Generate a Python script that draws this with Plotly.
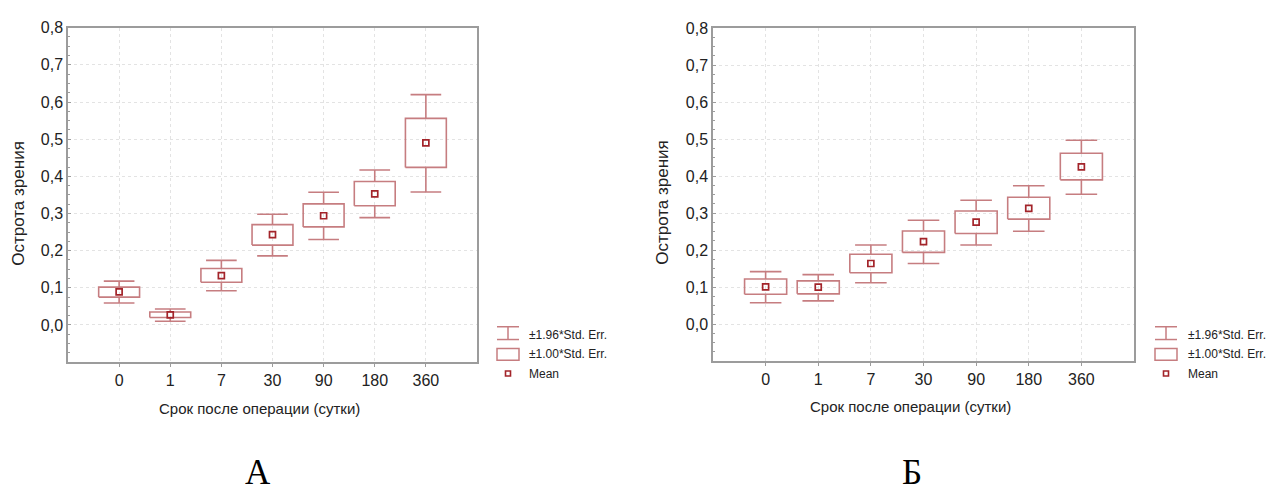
import plotly.graph_objects as go

W, H = 1269, 493

categories = ["0", "1", "7", "30", "90", "180", "360"]
y_tickvals = [0.0, 0.1, 0.2, 0.3, 0.4, 0.5, 0.6, 0.7, 0.8]
y_ticktext = ["0,0", "0,1", "0,2", "0,3", "0,4", "0,5", "0,6", "0,7", "0,8"]

# Panel A
a_mean = [0.089, 0.027, 0.133, 0.243, 0.294, 0.353, 0.490]
a_box_lo = [0.075, 0.020, 0.115, 0.215, 0.264, 0.321, 0.424]
a_box_hi = [0.102, 0.035, 0.152, 0.270, 0.326, 0.386, 0.556]
a_whisk_lo = [0.059, 0.010, 0.092, 0.186, 0.230, 0.289, 0.358]
a_whisk_hi = [0.118, 0.043, 0.174, 0.298, 0.357, 0.417, 0.620]

# Panel B
b_mean = [0.101, 0.100, 0.164, 0.223, 0.276, 0.313, 0.425]
b_box_lo = [0.081, 0.082, 0.139, 0.194, 0.245, 0.284, 0.390]
b_box_hi = [0.122, 0.117, 0.189, 0.252, 0.306, 0.343, 0.462]
b_whisk_lo = [0.058, 0.063, 0.112, 0.164, 0.214, 0.251, 0.351]
b_whisk_hi = [0.142, 0.134, 0.214, 0.281, 0.335, 0.374, 0.497]

legend_labels = ["±1.96*Std. Err.", "±1.00*Std. Err.", "Mean"]
panel_letters = ["А", "Б"]

BOX_COL = "#c67d80"
MEAN_COL = "#a3242a"
AXIS_COL = "#9c9c9c"
GRID_COL = "#e3e3e3"
FONT = "Liberation Sans"

fig = go.Figure()


def add_panel(xa, ya, mean, blo, bhi, wlo, whi):
    bx, by, wx, wy = [], [], [], []
    for i in range(len(categories)):
        xc = i + 1
        bx += [xc - 0.4, xc + 0.4, xc + 0.4, xc - 0.4, xc - 0.4, None]
        by += [blo[i], blo[i], bhi[i], bhi[i], blo[i], None]
        wx += [xc, xc, None, xc, xc, None, xc - 0.3, xc + 0.3, None, xc - 0.3, xc + 0.3, None]
        wy += [bhi[i], whi[i], None, blo[i], wlo[i], None, whi[i], whi[i], None, wlo[i], wlo[i], None]
    fig.add_trace(go.Scatter(x=wx, y=wy, mode="lines", xaxis=xa, yaxis=ya,
                             line=dict(color=BOX_COL, width=1.6), showlegend=False,
                             hoverinfo="skip"))
    fig.add_trace(go.Scatter(x=bx, y=by, mode="lines", xaxis=xa, yaxis=ya,
                             line=dict(color=BOX_COL, width=1.6), showlegend=False,
                             hoverinfo="skip"))
    fig.add_trace(go.Scatter(x=list(range(1, len(categories) + 1)), y=mean, mode="markers",
                             xaxis=xa, yaxis=ya, showlegend=False,
                             marker=dict(symbol="square-open", size=6, color=MEAN_COL,
                                         line=dict(width=1.7, color=MEAN_COL))))


add_panel("x", "y", a_mean, a_box_lo, a_box_hi, a_whisk_lo, a_whisk_hi)
add_panel("x2", "y2", b_mean, b_box_lo, b_box_hi, b_whisk_lo, b_whisk_hi)


def px_x(v):
    return v / W


def px_y(v):
    return 1 - v / H


xcommon = dict(range=[0, 8], tickmode="array", tickvals=list(range(1, 8)), ticktext=categories,
               showgrid=True, gridcolor=GRID_COL, griddash="dot", gridwidth=1,
               showline=True, linecolor=AXIS_COL, linewidth=1.5, mirror=True,
               ticks="outside", ticklen=3, tickcolor=AXIS_COL, zeroline=False,
               tickfont=dict(family=FONT, size=16, color="#222"), fixedrange=True)
ycommon = dict(range=[-0.1, 0.8], tickmode="array", tickvals=y_tickvals, ticktext=y_ticktext,
               showgrid=True, gridcolor=GRID_COL, griddash="dot", gridwidth=1,
               showline=True, linecolor=AXIS_COL, linewidth=1.5, mirror=True,
               ticks="inside", ticklen=3, tickcolor=AXIS_COL, zeroline=False,
               minor=dict(tickmode="linear", tick0=0, dtick=0.025, ticks="inside",
                          ticklen=2, tickcolor=AXIS_COL, showgrid=False),
               tickfont=dict(family=FONT, size=16, color="#222"), fixedrange=True)

fig.update_layout(
    width=W, height=H, margin=dict(l=0, r=0, t=0, b=0),
    paper_bgcolor="white", plot_bgcolor="white", showlegend=False,
    xaxis=dict(domain=[px_x(68), px_x(477)], anchor="y", **xcommon),
    yaxis=dict(domain=[px_y(360), px_y(20)], anchor="x", **ycommon),
    xaxis2=dict(domain=[px_x(713), px_x(1134)], anchor="y2", **xcommon),
    yaxis2=dict(domain=[px_y(359), px_y(20.5)], anchor="x2", **ycommon),
)

annotations = []
shapes = []
panels = [
    dict(ytitle_x=19, ytitle_y=199, xtitle_x=259, xtitle_y=407, leg_sym_x=497, leg_txt_x=527,
         letter_x=258),
    dict(ytitle_x=663, ytitle_y=198, xtitle_x=910, xtitle_y=405, leg_sym_x=1155, leg_txt_x=1186,
         letter_x=912),
]
for k, p in enumerate(panels):
    annotations.append(dict(text="Острота зрения", x=px_x(p["ytitle_x"]), y=px_y(p["ytitle_y"]),
                            xref="paper", yref="paper", showarrow=False, textangle=-90,
                            font=dict(family=FONT, size=17, color="#222"),
                            xanchor="center", yanchor="middle"))
    annotations.append(dict(text="Срок после операции (сутки)", x=px_x(p["xtitle_x"]),
                            y=px_y(p["xtitle_y"]), xref="paper", yref="paper", showarrow=False,
                            font=dict(family=FONT, size=15, color="#222"),
                            xanchor="center", yanchor="middle"))
    annotations.append(dict(text=panel_letters[k], x=px_x(p["letter_x"]), y=0,
                            xref="paper", yref="paper", showarrow=False,
                            font=dict(family="Liberation Serif", size=35, color="#000"),
                            xanchor="center", yanchor="bottom", borderpad=0))
    for j, lab in enumerate(legend_labels):
        annotations.append(dict(text=lab, x=px_x(p["leg_txt_x"]), y=px_y(332 + 20 * j),
                                xref="paper", yref="paper", showarrow=False,
                                font=dict(family=FONT, size=12, color="#222"),
                                xanchor="left", yanchor="middle"))
    sx0 = p["leg_sym_x"]
    sx1 = sx0 + 22
    sxm = (sx0 + sx1) / 2
    # whisker icon
    for (x0, y0, x1, y1) in [(sx0, 324, sx1, 324), (sx0, 337, sx1, 337), (sxm, 324, sxm, 337)]:
        shapes.append(dict(type="line", xref="paper", yref="paper",
                           x0=px_x(x0), y0=px_y(y0), x1=px_x(x1), y1=px_y(y1),
                           line=dict(color=BOX_COL, width=1.5)))
    # box icon
    shapes.append(dict(type="rect", xref="paper", yref="paper",
                       x0=px_x(sx0), y0=px_y(346), x1=px_x(sx1), y1=px_y(358),
                       line=dict(color=BOX_COL, width=1.5)))
    # mean icon
    shapes.append(dict(type="rect", xref="paper", yref="paper",
                       x0=px_x(sxm - 2.5), y0=px_y(369), x1=px_x(sxm + 2.5), y1=px_y(374),
                       line=dict(color=MEAN_COL, width=1.6)))

fig.update_layout(annotations=annotations, shapes=shapes)

fig.write_html("out.html")
